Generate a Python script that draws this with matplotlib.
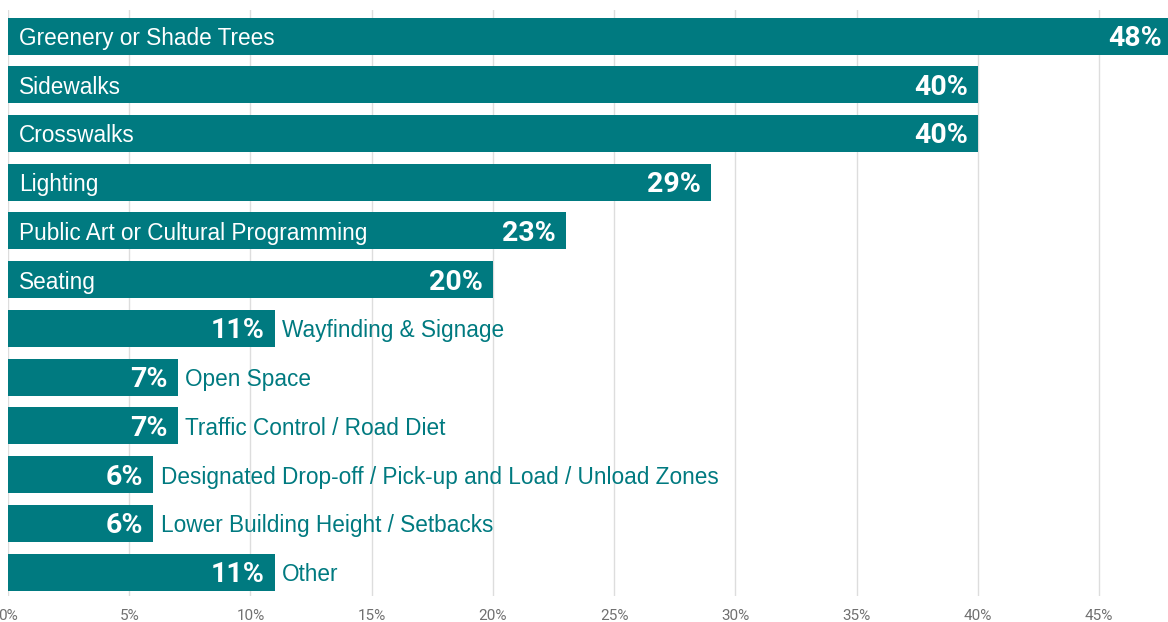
import matplotlib.pyplot as plt

categories = ["Greenery or Shade Trees", "Sidewalks", "Crosswalks", "Lighting",
              "Public Art or Cultural Programming", "Seating", "Wayfinding & Signage",
              "Open Space", "Traffic Control / Road Diet",
              "Designated Drop-off / Pick-up and Load / Unload Zones",
              "Lower Building Height / Setbacks", "Other"]
values = [48, 40, 40, 29, 23, 20, 11, 7, 7, 6, 6, 11]
ticks = [0, 5, 10, 15, 20, 25, 30, 35, 40, 45]
tick_labels = [f"{t}%" for t in ticks]

teal = "#007a80"

fig = plt.figure(figsize=(11.68, 6.22), dpi=100)
ax = fig.add_axes([8 / 1168, 1 - 596 / 622, 1 - 8 / 1168, (596 - 10) / 622])

pos = list(range(len(values)))
ax.barh(pos, values, height=0.76, color=teal, zorder=2)

for i, (c, v) in enumerate(zip(categories, values)):
    ax.text(v - 0.42, i + 0.05, f"{v}%", ha="right", va="center", color="white",
            fontsize=20.5, fontweight="bold", family="Roboto", zorder=3)
    if v >= 20:
        ax.text(0.45, i + 0.05, c, ha="left", va="center", color="white",
                fontsize=16.3, family="Liberation Sans", zorder=3)
    else:
        ax.text(v + 0.3, i + 0.05, c, ha="left", va="center", color=teal,
                fontsize=16.3, family="Liberation Sans", zorder=3)

ax.set_xlim(0, 47.84)
ax.set_ylim(11.49, -0.534)
ax.set_xticks(ticks)
ax.set_xticklabels(tick_labels, color="#707070", fontsize=11, family="Roboto")
ax.set_yticks([])
ax.tick_params(axis="x", length=0, pad=9)
ax.grid(axis="x", color="#dddddd", linewidth=1, zorder=0)
for s in ax.spines.values():
    s.set_visible(False)

fig.savefig("out.png", dpi=100)
